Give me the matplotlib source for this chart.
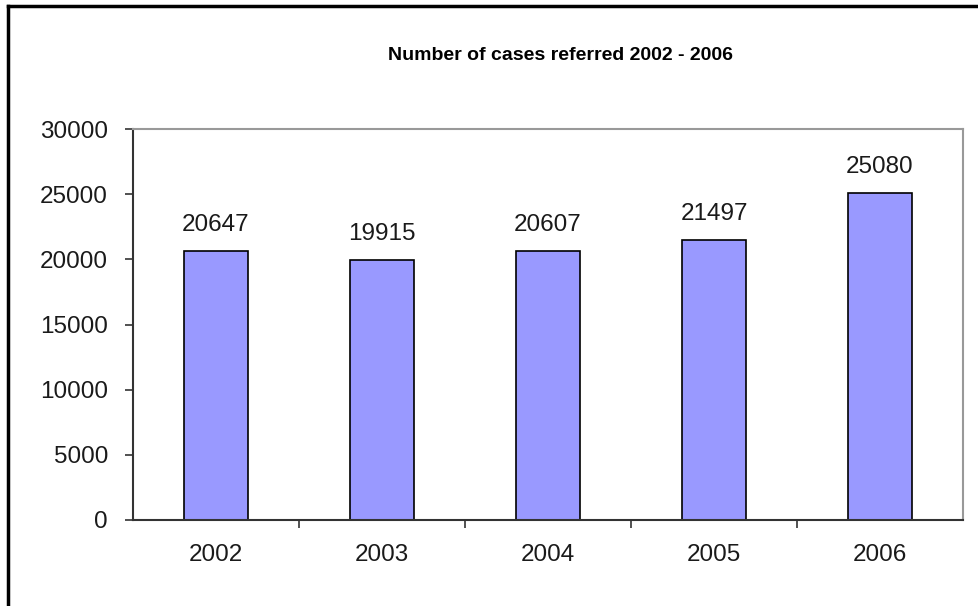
import matplotlib.pyplot as plt
from matplotlib.lines import Line2D

# Données
years = ['2002', '2003', '2004', '2005', '2006']
cases = [20647, 19915, 20607, 21497, 25080]

plt.rcParams['font.family'] = ['Liberation Sans', 'DejaVu Sans']

fig = plt.figure(figsize=(9.79, 6.06), dpi=100)
ax = fig.add_axes([133 / 979, 1 - 520 / 606, 830 / 979, 391 / 606])

x = range(len(years))
bars = ax.bar(x, cases, width=0.385, color='#9999ff', edgecolor='black', linewidth=1.2, zorder=2)

for xi, v in zip(x, cases):
    ax.text(xi, v + 1150, str(v), ha='center', va='bottom', fontsize=17.5, color='#1a1a1a')

ax.set_xlim(-0.5, len(years) - 0.5)
ax.set_ylim(0, 30000)
ax.set_yticks(range(0, 30001, 5000))
ax.set_xticks(x)
ax.set_xticklabels(years)
ax.set_xticks([i + 0.5 for i in range(len(years) - 1)], minor=True)
ax.tick_params(axis='x', which='major', length=0, pad=17, labelsize=17.5, labelcolor='#1a1a1a')
ax.tick_params(axis='x', which='minor', length=6, width=1.2, direction='out', color='#333333')
ax.tick_params(axis='y', length=6, width=1.2, direction='out', pad=12, labelsize=17.5,
               labelcolor='#1a1a1a', color='#333333')

ax.spines['left'].set_color('#333333')
ax.spines['left'].set_linewidth(1.5)
ax.spines['bottom'].set_color('#333333')
ax.spines['bottom'].set_linewidth(1.5)
ax.spines['top'].set_color('#999999')
ax.spines['right'].set_color('#999999')
ax.spines['top'].set_linewidth(1.5)
ax.spines['right'].set_linewidth(1.5)

fig.text(561 / 979, 1 - 56 / 606, 'Number of cases referred 2002 - 2006', ha='center', va='center',
         fontsize=14, fontweight='bold')

# Cadre du graphique
fig.add_artist(Line2D([8 / 979, 8 / 979], [0, 1 - 6 / 606], color='black', linewidth=2.5))
fig.add_artist(Line2D([8 / 979, 1], [1 - 6 / 606, 1 - 6 / 606], color='black', linewidth=2.5))

fig.savefig('out.png', dpi=100)
